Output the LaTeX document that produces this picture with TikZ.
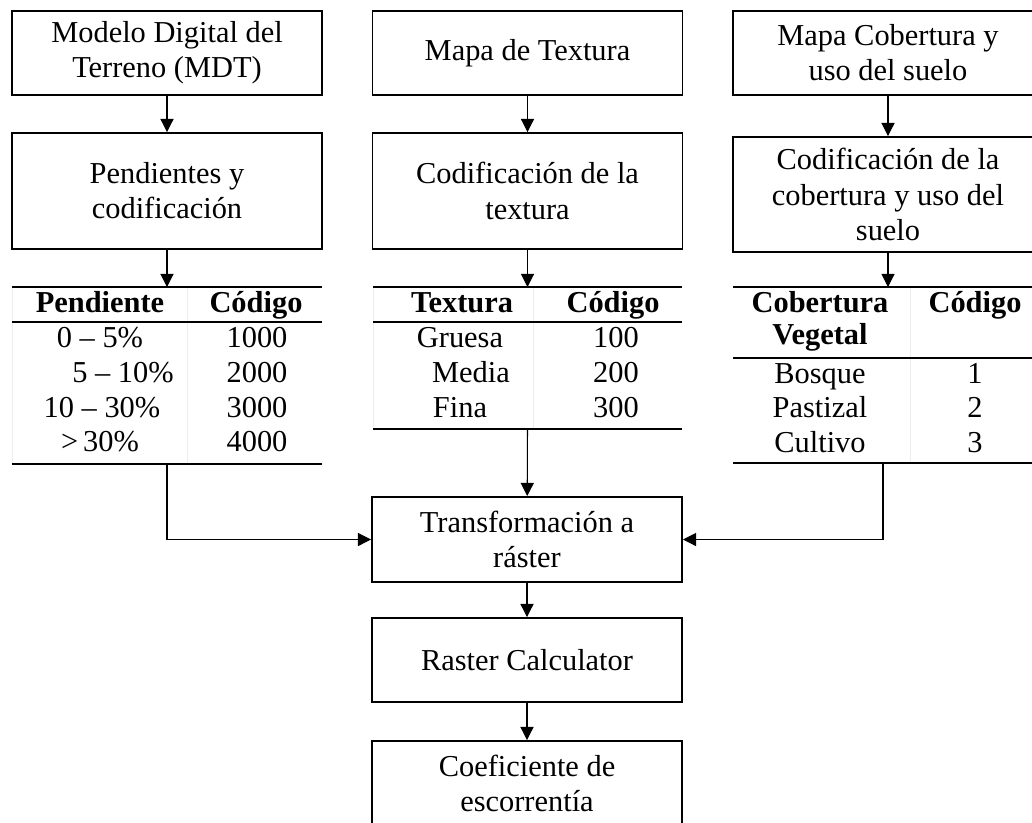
\documentclass[tikz,border=0pt]{standalone}
\usepackage{fontspec}
\setmainfont{Liberation Serif}
\usetikzlibrary{arrows.meta}

\begin{document}
\begin{tikzpicture}[
    proceso/.style={draw, line width=1.1pt, minimum width=6.2cm, minimum height=1.68cm, align=center, inner sep=0pt, font=\fontsize{17.3}{20}\selectfont},
    celda/.style={inner sep=0pt, text height=11.5pt, text depth=3.5pt, font=\fontsize{17.3}{20}\selectfont},
    titulo/.style={celda, font=\fontsize{17.3}{20}\selectfont\bfseries},
    regla/.style={line width=1.2pt},
    guia/.style={black!7, line width=0.5pt},
    line/.style={-{Triangle[length=7.5pt,width=7.5pt]}, line width=0.6pt}
]
\useasboundingbox (0,0) rectangle (20.64,-16.44);

% fila superior
\node[proceso] (mdt) at (3.34,-1.06) {Modelo Digital del\\Terreno (MDT)};
\node[proceso] (textura) at (10.55,-1.06) {Mapa de Textura};
\node[proceso] (cobertura) at (17.76,-1.06) {Mapa Cobertura y\\uso del suelo};

% codificacion
\node[proceso, minimum height=2.32cm] (pendientes) at (3.34,-3.82) {Pendientes y\\codificación};
\node[proceso, minimum height=2.32cm] (codtextura) at (10.55,-3.82) {Codificación de la\\textura};
\node[proceso, minimum height=2.3cm] (codcobertura) at (17.76,-3.89) {Codificación de la\\cobertura y uso del\\suelo};

% tabla de pendientes
\coordinate (t1top) at (3.34,-5.74);
\coordinate (t1bot) at (3.34,-9.28);
\draw[guia] (0.24,-5.74) -- (0.24,-9.28);
\draw[guia] (3.74,-5.74) -- (3.74,-9.28);
\draw[regla] (0.24,-5.74) -- (6.44,-5.74);
\draw[regla] (0.24,-6.44) -- (6.44,-6.44);
\draw[regla] (0.24,-9.28) -- (6.44,-9.28);
\node[titulo] (hpend) at (2.0,-6.1) {Pendiente};
\node[titulo] (hcod1) at (5.12,-6.1) {Código};
\node[celda] (p1) at (2.0,-6.8) {0 – 5\%};
\node[celda] (p2) at (2.46,-7.5) {5 – 10\%};
\node[celda] (p3) at (2.04,-8.2) {10 – 30\%};
\node[celda] (p4) at (2.0,-8.88) {>\,30\%};
\node[celda] (c1) at (5.14,-6.8) {1000};
\node[celda] (c2) at (5.14,-7.5) {2000};
\node[celda] (c3) at (5.14,-8.2) {3000};
\node[celda] (c4) at (5.14,-8.88) {4000};

% tabla de textura
\coordinate (t2top) at (10.55,-5.74);
\coordinate (t2bot) at (10.55,-8.58);
\draw[guia] (7.46,-5.74) -- (7.46,-8.58);
\draw[guia] (10.66,-5.74) -- (10.66,-8.58);
\draw[regla] (7.46,-5.74) -- (13.64,-5.74);
\draw[regla] (7.46,-6.44) -- (13.64,-6.44);
\draw[regla] (7.46,-8.58) -- (13.64,-8.58);
\node[titulo] (htex) at (9.24,-6.1) {Textura};
\node[titulo] (hcod2) at (12.26,-6.1) {Código};
\node[celda] (gruesa) at (9.2,-6.8) {Gruesa};
\node[celda] (media) at (9.42,-7.5) {Media};
\node[celda] (fina) at (9.2,-8.2) {Fina};
\node[celda] (x1) at (12.32,-6.8) {100};
\node[celda] (x2) at (12.32,-7.5) {200};
\node[celda] (x3) at (12.32,-8.2) {300};

% tabla de cobertura
\coordinate (t3top) at (17.76,-5.74);
\coordinate (t3bot) at (17.66,-9.26);
\draw[guia] (18.2,-5.74) -- (18.2,-9.26);
\draw[regla] (14.66,-5.74) -- (20.7,-5.74);
\draw[regla] (14.66,-7.16) -- (20.7,-7.16);
\draw[regla] (14.66,-9.26) -- (20.7,-9.26);
\node[titulo] (hcob) at (16.4,-6.1) {Cobertura};
\node[titulo] (hveg) at (16.4,-6.74) {Vegetal};
\node[titulo] (hcod3) at (19.5,-6.1) {Código};
\node[celda] (bosque) at (16.4,-7.52) {Bosque};
\node[celda] (pastizal) at (16.4,-8.2) {Pastizal};
\node[celda] (cultivo) at (16.4,-8.9) {Cultivo};
\node[celda] (v1) at (19.5,-7.52) {1};
\node[celda] (v2) at (19.5,-8.2) {2};
\node[celda] (v3) at (19.5,-8.9) {3};

% cadena final
\node[proceso, minimum height=1.7cm] (transf) at (10.54,-10.79) {Transformación a\\ráster};
\node[proceso] (raster) at (10.54,-13.2) {Raster Calculator};
\node[proceso] (coef) at (10.54,-15.66) {Coeficiente de\\escorrentía};

\draw[line] (mdt) -- (pendientes);
\draw[line] (textura) -- (codtextura);
\draw[line] (cobertura) -- (codcobertura);
\draw[line] (pendientes) -- (t1top);
\draw[line] (codtextura) -- (t2top);
\draw[line] (codcobertura) -- (t3top);
\draw[line] (t1bot) |- (transf.west);
\draw[line] (t2bot) -- (transf);
\draw[line] (t3bot) |- (transf.east);
\draw[line] (transf) -- (raster);
\draw[line] (raster) -- (coef);

\end{tikzpicture}
\end{document}
